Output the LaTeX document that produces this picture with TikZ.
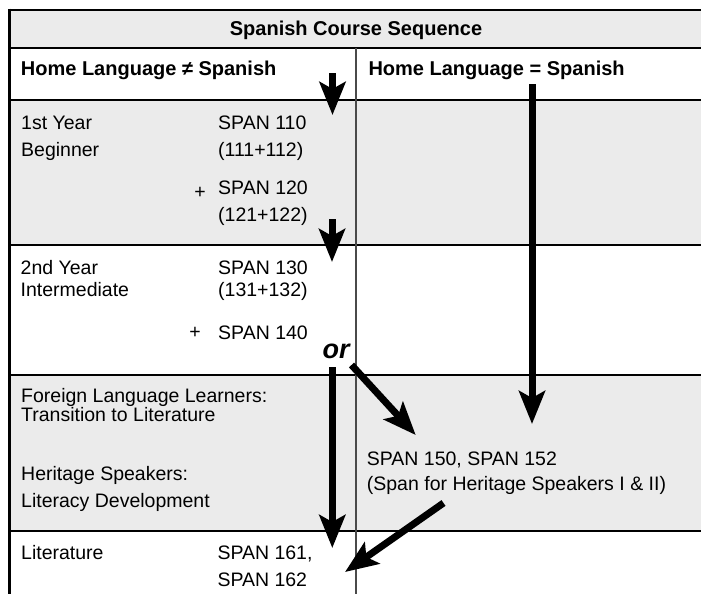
\documentclass[tikz,border=0pt]{standalone}
\usepackage{fontspec}
\setmainfont{Liberation Sans}
\usetikzlibrary{arrows.meta}

\definecolor{rowgray}{HTML}{EBEBEB}
\definecolor{rulegray}{HTML}{4A4A4A}

\begin{document}
\begin{tikzpicture}[x=1pt,y=-1pt,
  txt/.style={anchor=base west,inner sep=0pt,font=\fontsize{19.5}{20}\selectfont},
  headtxt/.style={txt,font=\fontsize{20}{20}\selectfont\bfseries},
  rowline/.style={line width=1.3pt},
  flow/.style={-{Stealth[length=33pt,width=26pt,inset=7pt]},line width=7pt}]

\useasboundingbox (0,0) rectangle (701,594);

% Shaded rows
\fill[rowgray] (9,10) rectangle (701,48);
\fill[rowgray] (9,100) rectangle (701,245);
\fill[rowgray] (9,375) rectangle (701,531);

% The table rules
\foreach \y in {48,100,245,375,531}
  \draw[rowline] (9,\y) -- (701,\y);
\draw[rulegray,line width=2pt] (355.5,48) -- (355.5,594);
\draw[line width=2.5pt] (8,10) -- (701,10);
\draw[line width=3pt] (9.5,8.75) -- (9.5,594);

% Headings
\node[headtxt,anchor=base] (title) at (356,36) {Spanish Course Sequence};
\node[headtxt] (home-other) at (20.7,75.5) {Home Language \char"2260{} Spanish};
\node[headtxt] (home-span) at (368.3,75.5) {Home Language = Spanish};

% 1st year
\node[txt] (yr1) at (21,129.5) {1st Year};
\node[txt] (beginner) at (21,156) {Beginner};
\node[txt] (span110) at (218,129.5) {SPAN 110};
\node[txt] (c111) at (218,156) {(111+112)};
\node[txt,anchor=center] (plus1) at (200,193) {+};
\node[txt] (span120) at (218,194) {SPAN 120};
\node[txt] (c121) at (218,221.5) {(121+122)};

% 2nd year
\node[txt] (yr2) at (20.5,274) {2nd Year};
\node[txt] (intermediate) at (20.5,296.7) {Intermediate};
\node[txt] (span130) at (218,274) {SPAN 130};
\node[txt] (c131) at (218,296.7) {(131+132)};
\node[txt,anchor=center] (plus2) at (195,332.5) {+};
\node[txt] (span140) at (218,339) {SPAN 140};
\node[txt,font=\fontsize{27}{27}\selectfont\bfseries\itshape] (or) at (322.5,358.3) {or};

% Transition / heritage
\node[txt] (fll) at (21,402.3) {Foreign Language Learners:};
\node[txt] (trans) at (21,421) {Transition to Literature};
\node[txt] (heritage) at (21,480.7) {Heritage Speakers:};
\node[txt] (literacy) at (21,507) {Literacy Development};
\node[txt] (span150) at (366.7,465) {SPAN 150, SPAN 152};
\node[txt] (shs) at (366.7,490) {(Span for Heritage Speakers I \& II)};

% Literature
\node[txt] (lit) at (21,559) {Literature};
\node[txt] (span161) at (217.3,559) {SPAN 161,};
\node[txt] (span162) at (217.3,586) {SPAN 162};

% Arrow ends
\coordinate (beg-top) at (332.5,73);
\coordinate (beg-tip) at (332.5,115);
\coordinate (int-top) at (332,219);
\coordinate (int-tip) at (332,262);
\coordinate (her-top) at (532,84);
\coordinate (her-tip) at (532,424);
\coordinate (lit-top) at (332.3,367);
\coordinate (lit-tip) at (332.3,548);
\coordinate (or-top) at (351.5,365);
\coordinate (or-tip) at (415.7,435);
\coordinate (back-top) at (443.5,503);
\coordinate (back-tip) at (345,572);

% The arrows
\draw[flow] (beg-top) -- (beg-tip);
\draw[flow] (int-top) -- (int-tip);
\draw[flow] (her-top) -- (her-tip);
\draw[flow] (lit-top) -- (lit-tip);
\draw[flow] (or-top) -- (or-tip);
\draw[flow] (back-top) -- (back-tip);

\end{tikzpicture}
\end{document}
